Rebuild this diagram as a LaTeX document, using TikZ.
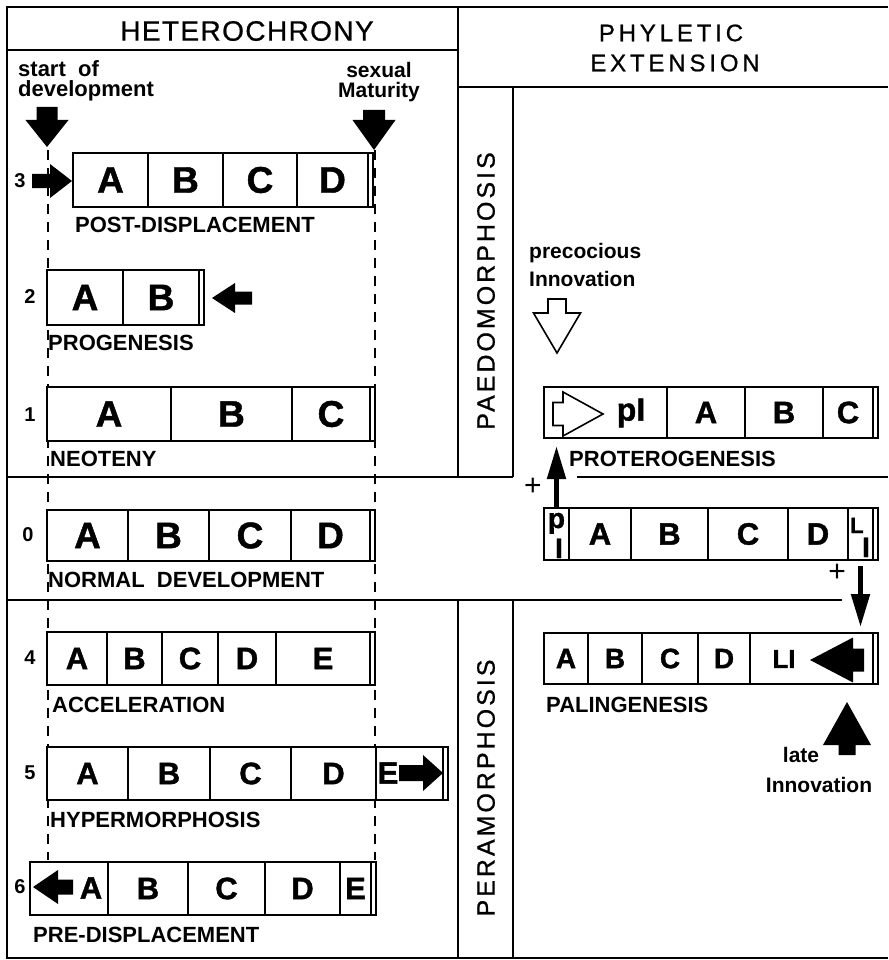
\documentclass[tikz,border=0pt]{standalone}
\usepackage{fontspec}
\setmainfont{Liberation Sans}
\newfontfamily\hetfont[LetterSpace=5, FakeBold=0.8]{Liberation Sans}
\newfontfamily\phyfont[LetterSpace=16, FakeBold=0.8]{Liberation Sans}
\newfontfamily\vfont[LetterSpace=12, FakeBold=0.8]{Liberation Sans}
\newfontfamily\blk[BoldFeatures={FakeBold=1.2}]{Liberation Sans}
\usetikzlibrary{arrows.meta}
% [options]{name}{x1}{x2}{ytop}{ybottom}{text}
\newcommand\cellat[7][]{\node[cellbox,anchor=north west,minimum width={(#4-#3)*1pt},minimum height={(#6-#5)*1pt},#1] (#2) at (#3,#5) {#7};}
\tikzset{
  cellbox/.style={draw, line width=1.5pt, fill=white, inner sep=0pt, outer sep=0pt, font=\blk\bfseries\fontsize{37}{38}\selectfont},
  midf/.style={font=\blk\bfseries\fontsize{31}{32}\selectfont},
  smlf/.style={font=\blk\bfseries\fontsize{28}{30}\selectfont},
  lab/.style={anchor=west, inner sep=0pt, font=\bfseries\fontsize{22}{24}\selectfont},
  num/.style={inner sep=0pt, font=\bfseries\fontsize{20}{22}\selectfont},
  note/.style={anchor=base west, inner sep=0pt, font=\bfseries\fontsize{21}{22}\selectfont},
  notec/.style={anchor=base, inner sep=0pt, font=\bfseries\fontsize{21}{22}\selectfont},
  frame/.style={line width=2.6pt},
  guide/.style={line width=1.8pt, dash pattern=on 10pt off 8pt},
  conn/.style={line width=5pt, -{Triangle[length=33pt,width=18pt]}},
  plus/.style={inner sep=0pt, font=\fontsize{30}{30}\selectfont},
  pics/barrow/.style n args={4}{code={%
    \path[pic actions] (0,0) -- (-#3,#4) -- (-#3,#2) -- ({-#3-#1},#2) -- ({-#3-#1},-#2) -- (-#3,-#2) -- (-#3,-#4) -- cycle;}},
  solidarrow/.style={fill=black},
  hollowarrow/.style={draw, fill=white, line width=1.6pt, line join=miter},
}
\begin{document}
\begin{tikzpicture}[x=1pt,y=-1pt]
\useasboundingbox (0,0) rectangle (888,960);

% dashed guides
\draw[guide] (48,150) -- (48,860);
\draw[guide] (375,150) -- (375,860);

% frame
\draw[frame] (888,7) -- (7,7) -- (7,958) -- (888,958);
\draw[frame] (7,50) -- (458,50);
\draw[frame] (458,7) -- (458,477);
\draw[frame] (458,87) -- (888,87);
\draw[frame] (513,87) -- (513,477);
\draw[frame] (7,477) -- (513,477);
\draw[frame] (577,477) -- (888,477);
\draw[frame] (7,600) -- (842,600);
\draw[frame] (458,600) -- (458,958);
\draw[frame] (513,600) -- (513,958);

% headers
\node[inner sep=0pt, font=\hetfont\fontsize{28}{30}\selectfont] (het) at (247,31) {HETEROCHRONY};
\node[inner sep=0pt, font=\phyfont\fontsize{24}{26}\selectfont] (phy1) at (671,33) {PHYLETIC};
\node[inner sep=0pt, font=\phyfont\fontsize{24}{26}\selectfont] (phy2) at (675,63) {EXTENSION};
\node[inner sep=0pt, rotate=90, font=\vfont\fontsize{25}{26}\selectfont] (paedo) at (486,291) {PAEDOMORPHOSIS};
\node[inner sep=0pt, rotate=90, font=\vfont\fontsize{25}{26}\selectfont] (pera) at (486,788) {PERAMORPHOSIS};

% notes
\node[anchor=north west, align=left, inner sep=0pt, font=\bfseries\fontsize{22}{20}\selectfont] (st) at (18,60) {start\ \ of\\development};
\node[anchor=north, align=center, inner sep=0pt, font=\bfseries\fontsize{21}{20.5}\selectfont] (sx) at (379,62) {sexual\\Maturity};
\pic[solidarrow, rotate=-90] at (47,147) {barrow={13}{10.5}{27}{21.5}};
\pic[solidarrow, rotate=-90] at (374,150) {barrow={10}{11}{30}{21.5}};

% row 3 post-displacement
\node[num] (n3) at (20,181) {3};
\pic[solidarrow] at (72,181) {barrow={18}{7}{22}{17}};
\cellat{r3a}{73}{148}{153}{207}{A}
\cellat{r3b}{148}{223}{153}{207}{B}
\cellat{r3c}{223}{297}{153}{207}{C}
\cellat{r3d}{297}{368}{153}{207}{D}
\cellat{r3z}{368}{373}{153}{207}{}
\node[lab] (l3) at (75,225) {POST-DISPLACEMENT};

% row 2 progenesis
\node[num] (n2) at (30,297) {2};
\cellat{r2a}{47}{123}{270}{325}{A}
\cellat{r2b}{123}{199}{270}{325}{B}
\cellat{r2z}{199}{204}{270}{325}{}
\pic[solidarrow, rotate=180] at (212,298) {barrow={17}{6.5}{23}{15}};
\node[lab] (l2) at (48,343) {PROGENESIS};

% row 1 neoteny
\node[num] (n1) at (30,415) {1};
\cellat{r1a}{47}{171}{387}{441}{A}
\cellat{r1b}{171}{292}{387}{441}{B}
\cellat{r1c}{292}{370}{387}{441}{C}
\cellat{r1z}{370}{375}{387}{441}{}
\node[lab] (l1) at (50,459) {NEOTENY};

% row 0 normal development
\node[num] (n0) at (28,535) {0};
\cellat{r0a}{47}{128}{510}{561}{A}
\cellat{r0b}{128}{209}{510}{561}{B}
\cellat{r0c}{209}{291}{510}{561}{C}
\cellat{r0d}{291}{370}{510}{561}{D}
\cellat{r0z}{370}{375}{510}{561}{}
\node[lab] (l0) at (48,580) {NORMAL\ \ DEVELOPMENT};

% row 4 acceleration
\node[num] (n4) at (30,658) {4};
\cellat[midf]{r4a}{47}{107}{632}{685}{A}
\cellat[midf]{r4b}{107}{162}{632}{685}{B}
\cellat[midf]{r4c}{162}{218}{632}{685}{C}
\cellat[midf]{r4d}{218}{276}{632}{685}{D}
\cellat[midf]{r4e}{276}{370}{632}{685}{E}
\cellat{r4z}{370}{375}{632}{685}{}
\node[lab] (l4) at (52,705) {ACCELERATION};

% row 5 hypermorphosis
\node[num] (n5) at (30,773) {5};
\cellat[midf]{r5a}{47}{128}{747}{800}{A}
\cellat[midf]{r5b}{128}{210}{747}{800}{B}
\cellat[midf]{r5c}{210}{291}{747}{800}{C}
\cellat[midf]{r5d}{291}{376}{747}{800}{D}
\cellat{r5e}{376}{443}{747}{800}{}
\cellat{r5z}{443}{448}{747}{800}{}
\node[inner sep=0pt, midf] (r5et) at (388,773) {E};
\pic[solidarrow] at (443,773) {barrow={24}{8}{20}{18}};
\node[lab] (l5) at (50,820) {HYPERMORPHOSIS};

% row 6 pre-displacement
\node[num] (n6) at (20,887) {6};
\cellat{r6a}{30}{108}{862}{915}{}
\cellat[midf]{r6b}{108}{188}{862}{915}{B}
\cellat[midf]{r6c}{188}{265}{862}{915}{C}
\cellat[midf]{r6d}{265}{340}{862}{915}{D}
\cellat[midf]{r6e}{340}{371}{862}{915}{E}
\cellat{r6z}{371}{376}{862}{915}{}
\pic[solidarrow, rotate=180] at (33,887) {barrow={15}{7.5}{25}{17}};
\node[inner sep=0pt, midf] (r6at) at (91,888) {A};
\node[lab] (l6) at (33,935) {PRE-DISPLACEMENT};

% precocious innovation
\node[note] (pc1) at (529,258) {precocious};
\node[note] (pc2) at (529,286) {Innovation};
\pic[hollowarrow, rotate=-90] at (557,353) {barrow={14}{9}{40}{23.5}};

% proterogenesis
\cellat{pra}{544}{667}{387}{438}{}
\cellat[midf]{prb}{667}{745}{387}{438}{A}
\cellat[midf]{prc}{745}{823}{387}{438}{B}
\cellat[midf]{prd}{823}{873}{387}{438}{C}
\cellat{prz}{873}{878}{387}{438}{}
\pic[hollowarrow] at (603,414) {barrow={10}{11.5}{40}{22}};
\node[inner sep=0pt, font=\blk\bfseries\fontsize{32}{32}\selectfont] (prpi) at (631,413) {pI};
\node[lab] (lpr) at (569,459) {PROTEROGENESIS};

% ancestral row with p I and L I
\cellat{qa}{544}{569}{508}{560}{}
\cellat[midf]{qb}{569}{631}{508}{560}{A}
\cellat[midf]{qc}{631}{708}{508}{560}{B}
\cellat[midf]{qd}{708}{788}{508}{560}{C}
\cellat[midf]{qe}{788}{848}{508}{560}{D}
\cellat{qf}{848}{873}{508}{560}{}
\cellat{qz}{873}{878}{508}{560}{}
\node[anchor=base, inner sep=0pt, font=\blk\bfseries\fontsize{28}{28}\selectfont] (qp) at (556.5,528) {p};
\node[anchor=base, inner sep=0pt, font=\blk\bfseries\fontsize{28}{28}\selectfont] (qi) at (559,558) {I};
\node[anchor=base west, inner sep=0pt, font=\blk\bfseries\fontsize{22}{22}\selectfont] (ql) at (850,533) {L};
\node[anchor=base, inner sep=0pt, font=\blk\bfseries\fontsize{28}{28}\selectfont] (qli) at (866,557) {I};
\node[plus] (plus1) at (533,487) {+};
\node[plus] (plus2) at (837,573) {+};
\draw[conn, shorten >=8pt] (qa.north) -- (qa.north |- pra.south);
\draw[conn, shorten <=6pt, shorten >=6pt] (qf.south) -- (qf.south |- 0,633);

% palingenesis
\cellat[smlf]{pa}{544}{588}{633}{684}{A}
\cellat[smlf]{pb}{588}{642}{633}{684}{B}
\cellat[smlf]{pc}{642}{698}{633}{684}{C}
\cellat[smlf]{pd}{698}{750}{633}{684}{D}
\cellat{pe}{750}{873}{633}{684}{}
\cellat{pz}{873}{878}{633}{684}{}
\node[inner sep=0pt, font=\blk\bfseries\fontsize{26}{26}\selectfont] (pli) at (784,659) {LI};
\pic[solidarrow, rotate=180] at (810,660) {barrow={11}{11.5}{43}{22.5}};
\node[lab] (lpa) at (546,705) {PALINGENESIS};

% late innovation
\pic[solidarrow, rotate=90] at (847,702) {barrow={10}{8.5}{43}{24}};
\node[notec] (lt1) at (801,762) {late};
\node[notec] (lt2) at (819,792) {Innovation};
\end{tikzpicture}
\end{document}
